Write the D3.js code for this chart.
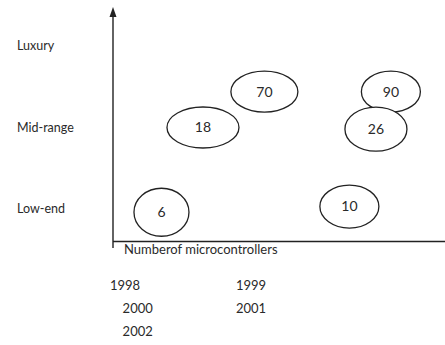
<!DOCTYPE html>
<html>
<head>
<meta charset="utf-8">
<script src="https://cdn.jsdelivr.net/npm/d3@7"></script>
<style>
  body { margin: 0; background: #fff; }
  svg { display: block; }
  text { font-family: Lato, "Open Sans", sans-serif; fill: #2a2a2a; }
</style>
</head>
<body>
<svg id="chart" width="445" height="345"></svg>
<script>
// categories on the vertical axis
var categories = ["Low-end", "Mid-range", "Luxury"];

// bubble labels, their horizontal place and their level
var bubbleValues = [6, 18, 70, 90, 26, 10];
var bubbleX = [14.6, 27.1, 45.6, 83.7, 79.2, 71.2];
var bubbleLevel = [-0.04, 1.0, 1.44, 1.44, 0.98, 0.03];

// year labels under the chart
var yearLabels = ["1998", "1999", "2000", "2001", "2002"];
var yearCol = [0, 1, 0.1, 1, 0.1];
var yearRow = [0, 0, 1, 1, 2];

var axisTitle = "Numberof microcontrollers";

var svg = d3.select("#chart");

var x = d3.scaleLinear().domain([0, 100]).range([113, 445]);
var y = d3.scaleLinear().domain([0, 2]).range([209, 46]);

// ellipse half-widths / half-heights (drawing shape only)
var rxs = [27.5, 36, 33.5, 29.5, 31, 29.5];
var rys = [24, 20.5, 20.5, 20.5, 22, 21.5];

var ink = "#222";

// axes
svg.append("line")
    .attr("x1", x(0)).attr("x2", x(0))
    .attr("y1", 16).attr("y2", 248)
    .attr("stroke", ink).attr("stroke-width", 1.4);

svg.append("path")
    .attr("d", "M" + x(0) + ",7 L" + (x(0) - 3.5) + ",17 L" + (x(0) + 3.5) + ",17 Z")
    .attr("fill", ink);

svg.append("line")
    .attr("x1", x(0)).attr("x2", x(100))
    .attr("y1", 241.5).attr("y2", 241.5)
    .attr("stroke", ink).attr("stroke-width", 1.4);

svg.append("text")
    .attr("x", 124).attr("y", 254)
    .attr("font-size", 13)
    .text(axisTitle);

// category labels
svg.selectAll(".cat")
    .data(categories)
    .enter()
    .append("text")
    .attr("class", "cat")
    .attr("x", 17)
    .attr("y", function(d, i) { return y(i); })
    .attr("dy", "0.35em")
    .attr("font-size", 12.5)
    .text(function(d) { return d; });

// bubbles
var bubbles = svg.selectAll(".bubble")
    .data(bubbleValues)
    .enter()
    .append("g")
    .attr("class", "bubble")
    .attr("transform", function(d, i) { return "translate(" + x(bubbleX[i]) + "," + y(bubbleLevel[i]) + ")"; });

bubbles.append("ellipse")
    .attr("rx", function(d, i) { return rxs[i]; })
    .attr("ry", function(d, i) { return rys[i]; })
    .attr("fill", "#fff")
    .attr("stroke", ink)
    .attr("stroke-width", 1.3);

bubbles.append("text")
    .attr("text-anchor", "middle")
    .attr("dy", "0.35em")
    .attr("font-size", 14)
    .text(function(d) { return d; });

// year list
svg.selectAll(".year")
    .data(yearLabels)
    .enter()
    .append("text")
    .attr("class", "year")
    .attr("x", function(d, i) { return 110 + yearCol[i] * 126; })
    .attr("y", function(d, i) { return 285 + yearRow[i] * 23; })
    .attr("dy", "0.35em")
    .attr("font-size", 13)
    .text(function(d) { return d; });
</script>
</body>
</html>
